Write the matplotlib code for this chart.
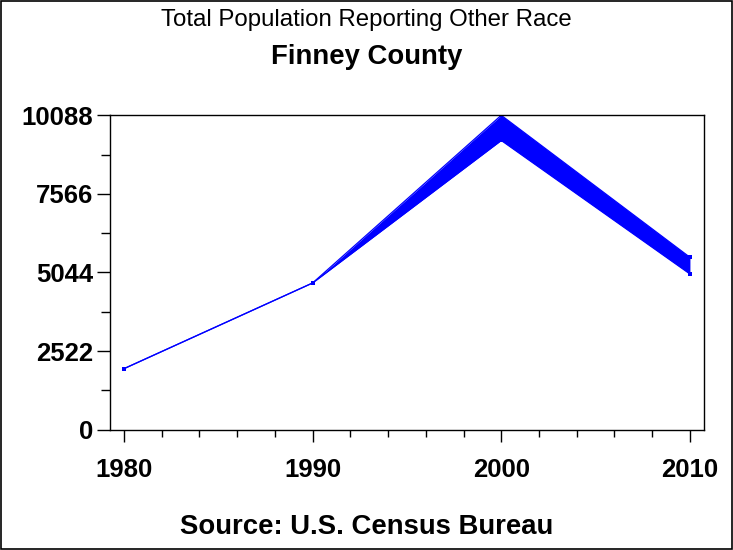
import matplotlib
matplotlib.use("Agg")
import matplotlib.pyplot as plt
from matplotlib.patches import Rectangle
from matplotlib.ticker import MultipleLocator, FixedLocator

years = [1980, 1990, 2000, 2010]
low_values = [1957, 4707, 9280, 4996]
high_values = [1957, 4707, 10088, 5532]
y_ticks = [0, 2522, 5044, 7566, 10088]
x_ticks = [1980, 1990, 2000, 2010]

title1 = "Total Population Reporting Other Race"
title2 = "Finney County"
footnote = "Source: U.S. Census Bureau"

plt.rcParams['font.family'] = ['Liberation Sans', 'DejaVu Sans']

fig = plt.figure(figsize=(7.33, 5.5), dpi=100)
ax = fig.add_axes([0.1497, 0.2187, 0.9608 - 0.1497, 0.7904 - 0.2187])

blue = (0, 0, 1)
ax.fill_between(years, low_values, high_values, color=blue, linewidth=0)
ax.plot(years, low_values, color=blue, lw=0.9, marker='s', ms=3.5, mew=0)
ax.plot(years, high_values, color=blue, lw=0.9, marker='s', ms=3.5, mew=0)

ax.set_xlim(1979.25, 2010.76)
ax.set_ylim(0, 10088)
ax.yaxis.set_major_locator(FixedLocator(y_ticks))
ax.yaxis.set_minor_locator(FixedLocator([1261, 3783, 6305, 8827]))
ax.xaxis.set_major_locator(FixedLocator(x_ticks))
ax.xaxis.set_minor_locator(MultipleLocator(2))
ax.set_yticklabels([str(v) for v in y_ticks])
ax.set_xticklabels([str(v) for v in x_ticks])

for lab in ax.get_xticklabels() + ax.get_yticklabels():
    lab.set_fontsize(18.5)
    lab.set_fontweight('bold')

ax.tick_params(axis='y', which='major', length=9.4, width=1, pad=2.7, direction='out')
ax.tick_params(axis='y', which='minor', length=6.5, width=1, direction='out')
ax.tick_params(axis='x', which='major', length=8.6, width=1, pad=12, direction='out')
ax.tick_params(axis='x', which='minor', length=5, width=1, direction='out')
for s in ax.spines.values():
    s.set_linewidth(1)

fig.text(0.5, 1 - 20 / 550, title1, ha='center', va='center', fontsize=17.3)
fig.text(0.5, 1 - 57 / 550, title2, ha='center', va='center', fontsize=19.8,
         fontweight='bold')
fig.text(0.5, 1 - 527 / 550, footnote, ha='center', va='center', fontsize=19.8,
         fontweight='bold')

fig.patches.append(Rectangle((0.001, 0.001), 0.998, 0.998, transform=fig.transFigure,
                             fill=False, edgecolor='black', lw=1.2))

fig.savefig("out.png", dpi=100)
